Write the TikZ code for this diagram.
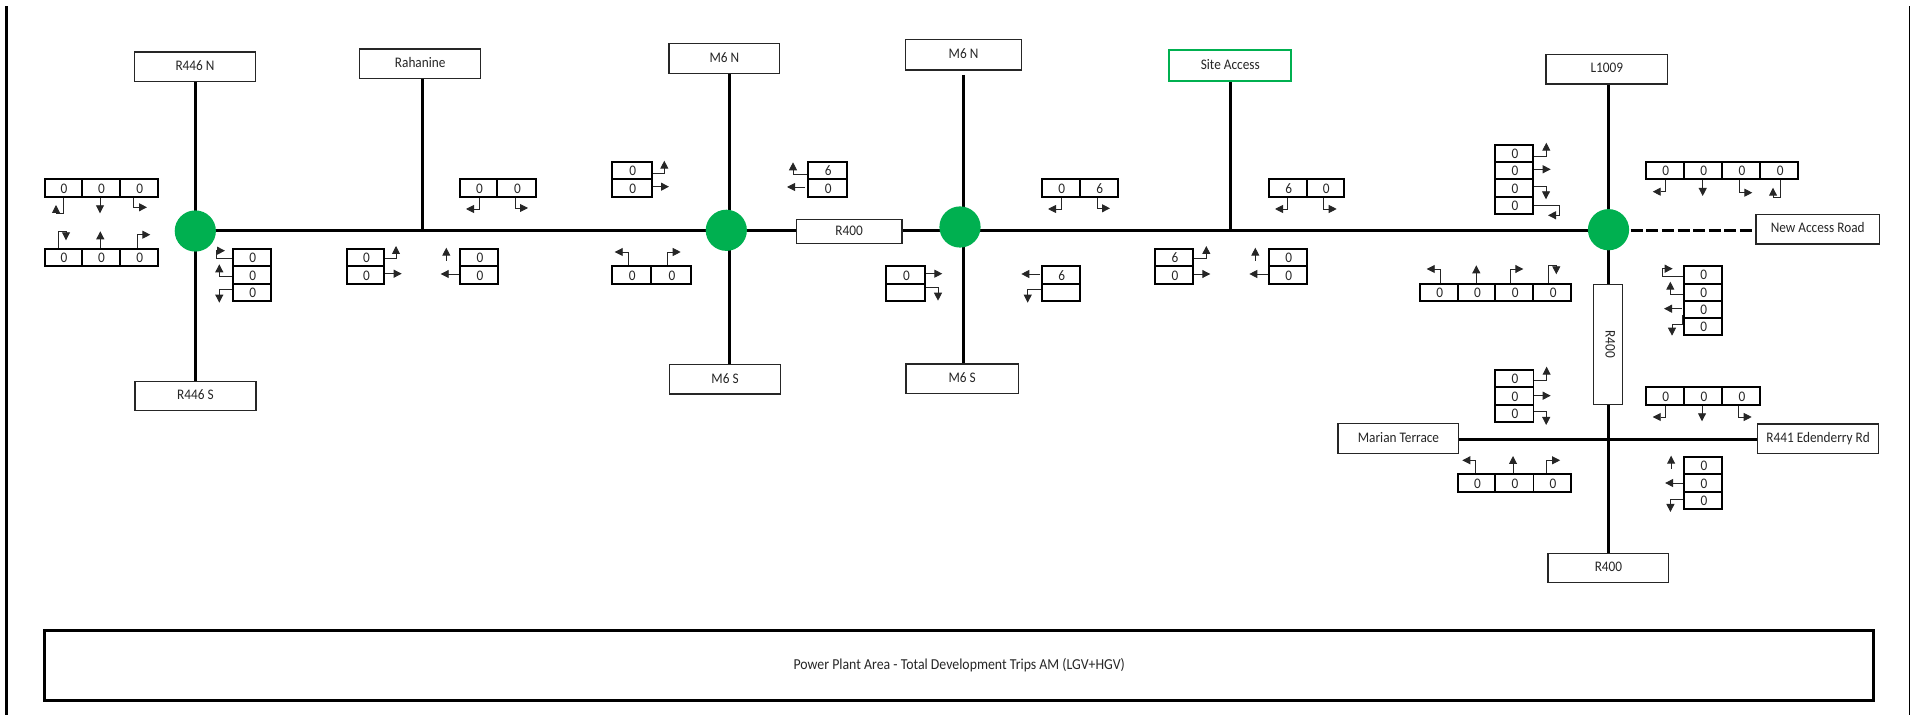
\documentclass[tikz,border=0pt]{standalone}
\usepackage{fontspec}
\setmainfont[FakeStretch=0.91]{Carlito}
\usetikzlibrary{arrows.meta,backgrounds}
\definecolor{siteG}{HTML}{00B050}
\tikzset{
  road/.style={line width=1.5pt,black},
  dashroad/.style={line width=1.5pt,black,dash pattern=on 6pt off 1.8pt},
  signal/.style={circle,fill=siteG,draw=none,minimum size=20.6pt,inner sep=0pt},
  namebox/.style={draw=black!85,fill=white,line width=.55pt,inner sep=0pt,text height=5pt,text depth=1.2pt,font=\fontsize{7.3}{8}\selectfont,text=black!85},
  sitebox/.style={namebox,draw=siteG,line width=.9pt},
  cellbox/.style={draw=black,line width=.85pt,inner sep=0pt,text height=5.2pt,text depth=0pt,font=\fontsize{7.3}{8}\selectfont,text=black!85},
  arr/.style={line width=.45pt,black!85,-{Triangle[length=4pt,width=4pt]}},
  frame/.style={draw=black,line width=1.35pt,inner sep=0pt,font=\fontsize{7.6}{8}\selectfont,text=black!85},
  bar/.style={fill=black,draw=none}
}
\newcommand{\cell}[6]{\pgfmathsetmacro\cw{(#4-#2)*0.5}\pgfmathsetmacro\ch{(#5-#3)*0.5}%
  \node[cellbox,minimum width=\cw pt,minimum height=\ch pt] (#1) at ({(#2+#4)/2},{(#3+#5)/2}) {\kern.8pt #6};}
\newcommand{\nm}[7][namebox]{\pgfmathsetmacro\cw{(#5-#3)*0.5}\pgfmathsetmacro\ch{(#6-#4)*0.5}%
  \node[#1,minimum width=\cw pt,minimum height=\ch pt] (#2) at ({(#3+#5)/2},{(#4+#6)/2}) {#7};}
\newcommand{\tp}[3]{\coordinate (#1) at (#2,#3);}
\begin{document}
\begin{tikzpicture}[x=.5pt,y=-.5pt]
\useasboundingbox (0,0) rectangle (1910,715);
% side rules
\fill[bar] (5,6) rectangle (7.7,715);
\fill[bar] (1909,6) rectangle (1910,715);
% signals
\node[signal] (c1) at (195.3,231) {};
\node[signal] (c2) at (726.3,230.3) {};
\node[signal] (c3) at (960,227) {};
\node[signal] (c4) at (1608.5,229.7) {};
% road name boxes
\nm{r446n}{134.5}{52}{255.5}{81.3}{R446 N}
\nm{rah}{359.7}{49}{480.7}{78.3}{Rahanine}
\nm{r446s}{135}{381.3}{256}{410.3}{R446 S}
\nm{m6an}{669}{43.7}{779.7}{73.7}{M6 N}
\nm{m6as}{669.7}{364.7}{780.3}{394}{M6 S}
\nm{r400m}{796.3}{219.7}{902}{243.3}{R400}
\nm{m6bn}{905.3}{39.3}{1021.7}{70}{M6 N}
\nm{m6bs}{906}{364}{1018.3}{393.3}{M6 S}
\nm[sitebox]{site}{1169.3}{50.3}{1291.3}{80.7}{Site Access}
\nm{l1009}{1546}{54.3}{1667.7}{84}{L1009}
\nm{newr}{1756}{214.3}{1879.3}{244}{New Access Road}
\node[namebox,text depth=3pt,rotate=-90,minimum width=60pt,minimum height=14.65pt] (r400v) at (1607.7,344.3) {R400};
\nm{mar}{1338}{423.3}{1458.9}{453.3}{Marian Terrace}
\nm{r441}{1757.3}{424}{1878.9}{453.3}{R441 Edenderry Rd}
\nm{r400s}{1548}{553.3}{1668.9}{582.7}{R400}
% bottom title
\node[frame,minimum width=914.5pt,minimum height=34.8pt] (title) at (959.2,665.5) {Power Plant Area - Total Development Trips AM (LGV+HGV)};
% roads
\coordinate (jr) at (422.3,231);
\coordinate (js) at (1230.3,231);
\coordinate (jx) at (1608.7,439.3);
\begin{pgfonlayer}{background}
\draw[road] (c1.center) -- (c1.center -| c4.center);
\draw[road] (r446n.south -| c1.center) -- (r446s.north -| c1.center);
\draw[road] (rah.south -| jr) -- (jr);
\draw[road] (m6an.south -| 729.3,0) -- (m6as.north -| 729.3,0);
\draw[road] (963.3,75) -- (m6bs.north -| 963.3,0);
\draw[road] (site.south -| js) -- (js);
\draw[road] (l1009.south -| c4.center) -- (r400v.west -| c4.center);
\draw[road] (r400v.east -| jx) -- (r400s.north -| jx);
\draw[road] (mar.east |- jx) -- (r441.west |- jx);
\draw[dashroad] (1630.7,231) -- (newr.west |- 0,231);
\end{pgfonlayer}
% T1
\cell{a1}{44.7}{179}{81.7}{197}{0}\cell{a2}{81.7}{179}{119.7}{197}{0}\cell{a3}{119.7}{179}{158}{197}{0}
\tp{a1t}{56}{205}\tp{a2t}{100}{213.3}\tp{a3t}{147}{207.3}
\draw[arr] (a1.south -| 63.3,0) |- (56,213.3) -- (a1t);
\draw[arr] (a2.south -| a2t) -- (a2t);
\draw[arr] (a3.south -| 133.3,0) |- (a3t);
% T2
\cell{b1}{44.7}{248.7}{81.7}{266}{0}\cell{b2}{81.7}{248.7}{119.7}{266}{0}\cell{b3}{119.7}{248.7}{158}{266}{0}
\tp{b1t}{66}{240.3}\tp{b2t}{100.3}{231.3}\tp{b3t}{150.3}{234.7}
\draw[arr] (b1.north -| 58.3,0) |- (66,231.3) -- (b1t);
\draw[arr] (b2.north -| b2t) -- (b2t);
\draw[arr] (b3.north -| 137.3,0) |- (b3t);
% T3
\cell{c1a}{232.7}{248.7}{271.3}{266}{0}\cell{c2a}{232.7}{266}{271.3}{283.7}{0}\cell{c3a}{232.7}{283.7}{271.3}{301}{0}
\tp{c1t}{225}{250.7}\tp{c2t}{219.3}{264.3}\tp{c3t}{219.3}{302.7}
\draw[arr] (c1a.west |- 0,258.7) -| (216.3,250.7) -- (c1t);
\draw[arr] (c2a.west |- 0,276.7) -| (c2t);
\draw[arr] (c3a.west |- 0,289.3) -| (c3t);
% T4
\cell{d1}{347}{248.7}{384.3}{266}{0}\cell{d2}{347}{266}{384.3}{283.7}{0}
\tp{d1t}{396}{246}\tp{d2t}{401.7}{273.7}
\draw[arr] (d1.east |- 0,258.7) -| (d1t);
\draw[arr] (d2.east |- d2t) -- (d2t);
% T5
\cell{e1}{460}{248.7}{498.3}{266}{0}\cell{e2}{460}{266}{498.3}{283.7}{0}
\tp{e0}{446.3}{260.7}\tp{e1t}{446.3}{247.7}\tp{e2t}{440.7}{274}
\draw[arr] (e0) -- (e1t);
\draw[arr] (e2.west |- e2t) -- (e2t);
% T6
\cell{f1}{460}{179}{497.3}{197}{0}\cell{f2}{497.3}{179}{536}{197}{0}
\tp{f1t}{466}{209}\tp{f2t}{528}{208}
\draw[arr] (f1.south -| 479.3,0) |- (f1t);
\draw[arr] (f2.south -| 515.3,0) |- (f2t);
% T7
\cell{g1}{612}{161.7}{651.7}{179}{0}\cell{g2}{612}{179}{651.7}{197}{0}
\tp{g1t}{664.3}{160.7}\tp{g2t}{669}{186.7}
\draw[arr] (g1.east |- 0,173.3) -| (g1t);
\draw[arr] (g2.east |- g2t) -- (g2t);
% T8
\cell{h1}{808}{161.7}{847}{179}{6}\cell{h2}{808}{179}{847}{197}{0}
\tp{h1t}{793}{162.3}\tp{h2t}{787}{187}
\draw[arr] (h1.west |- 0,174.7) -| (h1t);
\draw[arr] (805,187) -- (h2t);
% T9
\cell{i1}{612}{266}{651}{283.7}{0}\cell{i2}{651}{266}{691.3}{283.7}{0}
\tp{i1t}{614.7}{252}\tp{i2t}{680.7}{252}
\draw[arr] (i1.north -| 628.3,0) |- (i1t);
\draw[arr] (i2.north -| 667.3,0) |- (i2t);
% T10
\cell{j1}{886}{266}{925.3}{283.7}{0}\cell{j2}{886}{283.7}{925.3}{301}{}
\tp{j1t}{942.3}{273.7}\tp{j2t}{938}{300.7}
\draw[arr] (j1.east |- j1t) -- (j1t);
\draw[arr] (j2.east |- 0,287) -| (j2t);
% T11
\cell{k1}{1041.7}{179}{1080}{197}{0}\cell{k2}{1080}{179}{1118}{197}{6}
\tp{k1t}{1048}{209}\tp{k2t}{1110}{208.3}
\draw[arr] (k1.south -| 1061,0) |- (k1t);
\draw[arr] (k2.south -| 1097.3,0) |- (k2t);
% T12
\cell{l1}{1041.7}{266}{1080}{283.7}{6}\cell{l2}{1041.7}{283.7}{1080}{301}{}
\tp{l1t}{1021.3}{274}\tp{l2t}{1027.7}{302.7}
\draw[arr] (1039.7,274) -- (l1t);
\draw[arr] (l2.west |- 0,289.3) -| (l2t);
% T13
\cell{m1}{1155}{248.7}{1193.3}{266}{6}\cell{m2}{1155}{266}{1193.3}{283.7}{0}
\tp{m1t}{1206.3}{246}\tp{m2t}{1210.3}{274}
\draw[arr] (m1.east |- 0,258.7) -| (m1t);
\draw[arr] (m2.east |- m2t) -- (m2t);
% T14
\cell{n1}{1269}{248.7}{1306.7}{266}{0}\cell{n2}{1269}{266}{1306.7}{283.7}{0}
\tp{n0}{1255.3}{260.7}\tp{n1t}{1255.3}{247.7}\tp{n2t}{1249.3}{274}
\draw[arr] (n0) -- (n1t);
\draw[arr] (n2.west |- n2t) -- (n2t);
% T15
\cell{o1}{1269}{179}{1306.7}{197}{6}\cell{o2}{1306.7}{179}{1344.3}{197}{0}
\tp{o1t}{1275}{209}\tp{o2t}{1336.7}{209}
\draw[arr] (o1.south -| 1287.7,0) |- (o1t);
\draw[arr] (o2.south -| 1323.7,0) |- (o2t);
% T16
\cell{p1}{1495}{144.7}{1533.3}{162}{0}\cell{p2}{1495}{162}{1533.3}{179.3}{0}\cell{p3}{1495}{179.3}{1533.3}{197}{0}\cell{p4}{1495}{197}{1533.3}{214}{0}
\tp{p1t}{1546.3}{142.7}\tp{p2t}{1550.7}{169.3}\tp{p3t}{1546}{199.3}\tp{p4t}{1548}{215.3}
\draw[arr] (p1.east |- 0,156) -| (p1t);
\draw[arr] (p2.east |- p2t) -- (p2t);
\draw[arr] (p3.east |- 0,186) -| (p3t);
\draw[arr] (p4.east |- 0,205) -| (1559.3,215.3) -- (p4t);
% T17
\cell{q1}{1646}{162}{1684}{179}{0}\cell{q2}{1684}{162}{1722}{179}{0}\cell{q3}{1722}{162}{1760.3}{179}{0}\cell{q4}{1760.3}{162}{1798.3}{179}{0}
\tp{q1t}{1652.7}{191.7}\tp{q2t}{1702.7}{196}\tp{q3t}{1752.3}{192.7}\tp{q4t}{1773}{187.7}
\draw[arr] (q1.south -| 1665.7,0) |- (q1t);
\draw[arr] (q2.south -| q2t) -- (q2t);
\draw[arr] (q3.south -| 1739.3,0) |- (q3t);
\draw[arr] (q4.south -| 1780.3,0) |- (1773,197.3) -- (q4t);
% T18
\cell{r1}{1420}{283.7}{1458}{301}{0}\cell{r2}{1458}{283.7}{1495.3}{301}{0}\cell{r3}{1495.3}{283.7}{1533.3}{301}{0}\cell{r4}{1533.3}{283.7}{1571.3}{301}{0}
\tp{r1t}{1426.7}{269}\tp{r2t}{1476.3}{265.3}\tp{r3t}{1523.3}{269}\tp{r4t}{1556.3}{274.3}
\draw[arr] (r1.north -| 1440,0) |- (r1t);
\draw[arr] (r2.north -| r2t) -- (r2t);
\draw[arr] (r3.north -| 1510.3,0) |- (r3t);
\draw[arr] (r4.north -| 1548.3,0) |- (1556.3,265.3) -- (r4t);
% T19
\cell{s1}{1683.7}{265.7}{1722}{283.7}{0}\cell{s2}{1683.7}{283.7}{1722}{301}{0}\cell{s3}{1683.7}{301}{1722}{317.7}{0}\cell{s4}{1683.7}{317.7}{1722}{335}{0}
\tp{s1t}{1672.7}{268.7}\tp{s2t}{1670.3}{281.7}\tp{s3t}{1664}{308.7}\tp{s4t}{1672}{335.7}
\draw[arr] (s1.west |- 0,276.3) -| (1662.3,268.7) -- (s1t);
\draw[arr] (s2.west |- 0,294.3) -| (s2t);
\draw[arr] (1681.7,308.7) -- (s3t);
\draw[arr] (1682,315) |- (1672,324.7) -- (s4t);
% T20
\cell{t1}{1495}{370}{1533.4}{387.3}{0}\cell{t2}{1495}{387.3}{1533.4}{405}{0}\cell{t3}{1495}{405}{1533.4}{422}{0}
\tp{t1t}{1546.6}{366.7}\tp{t2t}{1550.7}{395.7}\tp{t3t}{1546.2}{425}
\draw[arr] (t1.east |- 0,380) -| (t1t);
\draw[arr] (t2.east |- t2t) -- (t2t);
\draw[arr] (t3.east |- 0,411.3) -| (t3t);
% T21
\cell{u1}{1645.9}{387}{1684}{404.7}{0}\cell{u2}{1684}{387}{1722.3}{404.7}{0}\cell{u3}{1722.3}{387}{1760}{404.7}{0}
\tp{u1t}{1652.7}{417}\tp{u2t}{1702}{421.3}\tp{u3t}{1751.7}{417}
\draw[arr] (u1.south -| 1665.9,0) |- (u1t);
\draw[arr] (u2.south -| u2t) -- (u2t);
\draw[arr] (u3.south -| 1738.5,0) |- (u3t);
% T22
\cell{v1}{1458.1}{474}{1495}{492}{0}\cell{v2}{1495}{474}{1533.4}{492}{0}\cell{v3}{1533.4}{474}{1571}{492}{0}
\tp{v1t}{1462.3}{460.3}\tp{v2t}{1513}{456}\tp{v3t}{1560.1}{460.3}
\draw[arr] (v1.north -| 1475.4,0) |- (v1t);
\draw[arr] (v2.north -| v2t) -- (v2t);
\draw[arr] (v3.north -| 1546.6,0) |- (v3t);
% T23
\cell{w1}{1684}{457}{1722.3}{474.3}{0}\cell{w2}{1684}{474.3}{1722.3}{492}{0}\cell{w3}{1684}{492}{1722.3}{509.3}{0}
\tp{w0}{1671.1}{468.7}\tp{w1t}{1671.1}{455.7}\tp{w2t}{1665.1}{483}\tp{w3t}{1670.4}{512}
\draw[arr] (w0) -- (w1t);
\draw[arr] (w2.west |- w2t) -- (w2t);
\draw[arr] (w3.west |- 0,499) -| (w3t);
\end{tikzpicture}
\end{document}
